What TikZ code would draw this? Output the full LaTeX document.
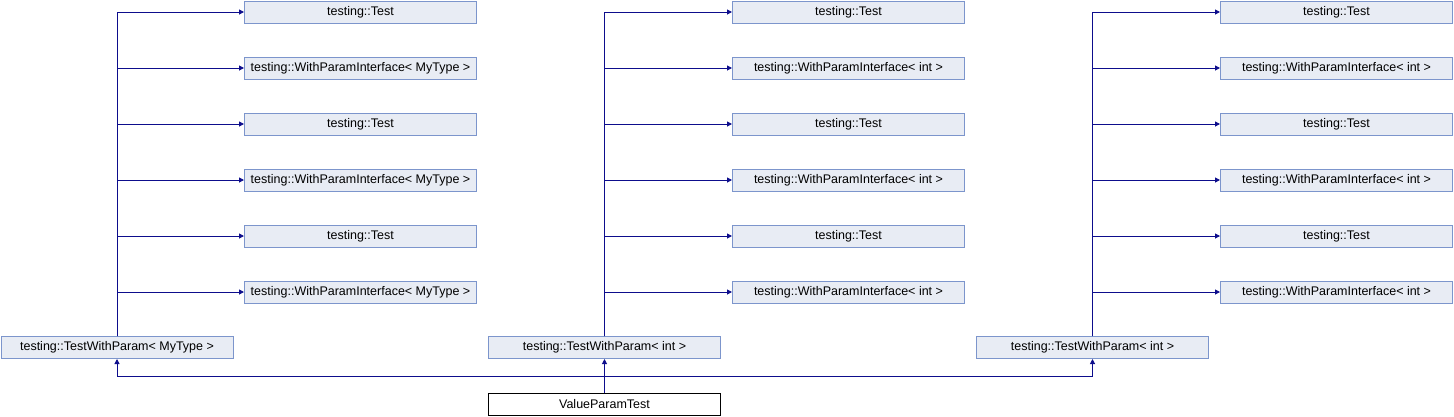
\documentclass[tikz,border=0pt]{standalone}
\usepackage{fontspec}
\setmainfont{Liberation Sans}
\usetikzlibrary{arrows.meta}
\definecolor{boxfill}{HTML}{E8ECF4}
\definecolor{boxline}{HTML}{7C95CC}
\definecolor{edgecol}{HTML}{0D0D8C}
\tikzset{
  cls/.style={draw=boxline, fill=boxfill, line width=1pt, minimum width=232pt, minimum height=22pt, inner sep=0pt, font=\fontsize{12.5}{15}\selectfont},
  mainbox/.style={draw=black, fill=white, line width=1pt, minimum width=232pt, minimum height=22pt, inner sep=0pt, font=\fontsize{12.5}{15}\selectfont},
  arr/.style={draw=edgecol, line width=1pt, -{Triangle[length=5pt,width=5pt]}}
}
\begin{document}
\begin{tikzpicture}[x=1pt,y=-1pt]
\useasboundingbox (0,0) rectangle (1454,416);
% columns
\foreach \c/\bx/\tx/\ptype in {1/117/360.5/MyType, 2/604.5/848.5/int, 3/1092.5/1336.5/int}{
  \node[cls] (B\c) at (\bx,347.5) {testing::TestWithParam< \ptype\ >};
  \foreach \r in {1,...,6}{
    \pgfmathsetmacro{\yy}{12+56*(\r-1)}
    \ifodd\r
      \node[cls] (T\c\r) at (\tx,\yy) {testing::Test};
    \else
      \node[cls] (T\c\r) at (\tx,\yy) {testing::WithParamInterface< \ptype\ >};
    \fi
    \draw[arr] (B\c.north) |- (T\c\r.west);
  }
}
\node[mainbox] (V) at (604.5,404.5) {ValueParamTest};
\coordinate (J) at (0,376);
\draw[arr] (V.north) -- (V.north |- J) -| (B1.south);
\draw[arr] (V.north) -- (B2.south);
\draw[arr] (V.north) -- (V.north |- J) -| (B3.south);
\end{tikzpicture}
\end{document}
